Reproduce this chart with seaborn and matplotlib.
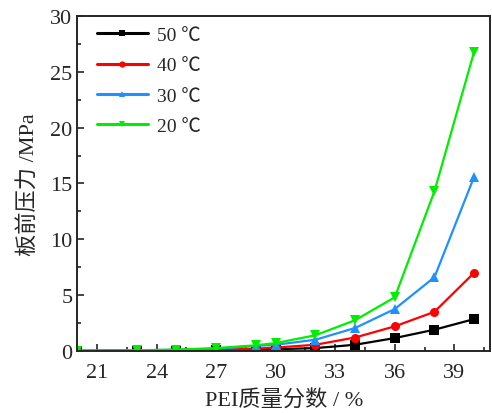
import pandas as pd
import matplotlib.pyplot as plt
import seaborn as sns
from matplotlib.ticker import MultipleLocator

# PEI mass fraction (%)
pei = [20, 23, 25, 27, 29, 30, 32, 34, 36, 38, 40]

# pressure before plate (MPa) per temperature
p_50 = [0.0, 0.02, 0.03, 0.05, 0.1, 0.15, 0.25, 0.55, 1.15, 1.9, 2.85]
p_40 = [0.0, 0.03, 0.05, 0.1, 0.2, 0.3, 0.55, 1.2, 2.2, 3.5, 7.0]
p_30 = [0.0, 0.05, 0.1, 0.2, 0.45, 0.55, 1.0, 2.05, 3.75, 6.6, 15.6]
p_20 = [0.0, 0.06, 0.12, 0.25, 0.5, 0.7, 1.4, 2.75, 4.8, 14.3, 26.8]

labels = ['50 ℃', '40 ℃', '30 ℃', '20 ℃']
colors = ['#000000', '#ff0000', '#1e90ff', '#00ee00']
markers = ['s', 'o', '^', 'v']

rows = []
for lab, vals in zip(labels, [p_50, p_40, p_30, p_20]):
    for x, y in zip(pei, vals):
        rows.append({'pei': x, 'p': y, 'temp': lab})
df = pd.DataFrame(rows)

sns.set_style('ticks')
plt.rcParams['font.family'] = ['Liberation Serif', 'Noto Sans CJK SC', 'DejaVu Sans']

fig = plt.figure(figsize=(4.92, 4.14), dpi=100)
ax = fig.add_axes([0.157, 0.150, 0.839, 0.809])

sns.lineplot(data=df, x='pei', y='p', hue='temp', style='temp',
             hue_order=labels, style_order=labels,
             palette=colors, markers=markers, dashes=False,
             markersize=6.5, markeredgewidth=0, linewidth=1.6, ax=ax)

ax.set_xlim(20, 40.8)
ax.set_ylim(0, 30)
ax.xaxis.set_major_locator(MultipleLocator(3))
ax.xaxis.set_minor_locator(MultipleLocator(1.5))
ax.yaxis.set_major_locator(MultipleLocator(5))
ax.yaxis.set_minor_locator(MultipleLocator(2.5))
ax.set_xticks([21, 24, 27, 30, 33, 36, 39])
ax.tick_params(which='both', direction='in', top=False, right=False,
               labelsize=16, width=1.2)
ax.tick_params(which='major', length=5)
ax.tick_params(axis='x', which='major', pad=9)
ax.tick_params(which='minor', length=3)
for s in ax.spines.values():
    s.set_linewidth(1.4)

ax.set_xlabel('PEI质量分数 / %', fontsize=16, labelpad=5)
ax.set_ylabel('板前压力 /MPa', fontsize=16, labelpad=8)

leg = ax.legend(loc='upper left', frameon=False, fontsize=14,
                handlelength=2.6, labelspacing=0.65, handletextpad=0.5,
                borderaxespad=0.2, bbox_to_anchor=(0.02, 1.003))
for h in leg.legend_handles:
    h.set_markersize(4.5)
    h.set_linewidth(2.2)

fig.savefig('out.png', dpi=100)
